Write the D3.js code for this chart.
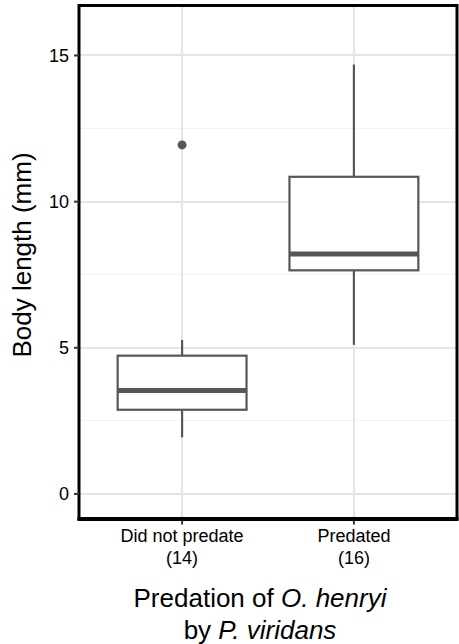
<!DOCTYPE html>
<meta charset="utf-8">
<style>
  body {
    margin: 0;
    background-color: white;
    font-family: "Liberation Sans", Arial, Helvetica, sans-serif;
  }

  .grid line {
    stroke: #e5e5e5;
    shape-rendering: crispEdges;
  }

  .tick-label {
    font-size: 18px;
    fill: #000;
  }

  .title {
    font-size: 26px;
    fill: #000;
  }
</style>

<body>
  <svg id="chart" width="459" height="644"></svg>

  <script src="https://cdn.jsdelivr.net/npm/d3@7"></script>

  <script>
    // groups and their counts
    var groups = ["Did not predate", "Predated"];
    var counts = [14, 16];

    // box stats (mm)
    var whiskerLow = [1.94, 5.10];
    var q1 = [2.88, 7.65];
    var median = [3.54, 8.21];
    var q3 = [4.73, 10.85];
    var whiskerHigh = [5.27, 14.69];
    var outliers = [[11.94], []];

    var yTicks = [0, 5, 10, 15];
    var yMinor = [2.5, 7.5, 12.5];

    var panel = { left: 79, right: 457, top: 5.5, bottom: 518.5 };

    var svg = d3.select("#chart");

    var x = d3.scalePoint().domain(groups)
      .range([panel.left, panel.right]).padding(0.6);
    var step = x.step();

    var y = d3.scaleLinear().domain([-0.84, 16.71])
      .range([panel.bottom, panel.top]);

    var boxes = groups.map(function (g, i) {
      return {
        group: g, n: counts[i], lo: whiskerLow[i], q1: q1[i], med: median[i],
        q3: q3[i], hi: whiskerHigh[i], out: outliers[i]
      };
    });

    // grid
    var grid = svg.append("g").attr("class", "grid");
    grid.selectAll(".minor").data(yMinor).enter().append("line")
      .attr("x1", panel.left).attr("x2", panel.right)
      .attr("y1", d => y(d)).attr("y2", d => y(d))
      .style("stroke", "#f3f3f3").attr("stroke-width", 1);
    grid.selectAll(".major").data(yTicks).enter().append("line")
      .attr("x1", panel.left).attr("x2", panel.right)
      .attr("y1", d => y(d)).attr("y2", d => y(d))
      .attr("stroke-width", 2);
    grid.selectAll(".vert").data(groups).enter().append("line")
      .attr("x1", d => x(d)).attr("x2", d => x(d))
      .attr("y1", panel.top).attr("y2", panel.bottom)
      .attr("stroke-width", 2);

    // boxes
    var bw = step * 0.75;
    var col = "#575757";
    var b = svg.selectAll(".box").data(boxes).enter().append("g");

    b.append("line")
      .attr("x1", d => x(d.group)).attr("x2", d => x(d.group))
      .attr("y1", d => y(d.hi)).attr("y2", d => y(d.q3))
      .attr("stroke", col).attr("stroke-width", 2.2);
    b.append("line")
      .attr("x1", d => x(d.group)).attr("x2", d => x(d.group))
      .attr("y1", d => y(d.q1)).attr("y2", d => y(d.lo))
      .attr("stroke", col).attr("stroke-width", 2.2);
    b.append("rect")
      .attr("x", d => x(d.group) - bw / 2).attr("width", bw)
      .attr("y", d => y(d.q3)).attr("height", d => y(d.q1) - y(d.q3))
      .attr("fill", "white").attr("stroke", col).attr("stroke-width", 2.2);
    b.append("line")
      .attr("x1", d => x(d.group) - bw / 2).attr("x2", d => x(d.group) + bw / 2)
      .attr("y1", d => y(d.med)).attr("y2", d => y(d.med))
      .attr("stroke", col).attr("stroke-width", 5);
    b.selectAll("circle").data(d => d.out.map(v => ({ g: d.group, v: v })))
      .enter().append("circle")
      .attr("cx", d => x(d.g)).attr("cy", d => y(d.v)).attr("r", 4.5)
      .attr("fill", col);

    // panel border
    svg.append("rect")
      .attr("x", panel.left).attr("y", panel.top)
      .attr("width", panel.right - panel.left).attr("height", panel.bottom - panel.top)
      .attr("fill", "none").attr("stroke", "#000").attr("stroke-width", 3);
    svg.append("line")
      .attr("x1", panel.left - 1.5).attr("x2", panel.right + 1.5)
      .attr("y1", panel.bottom + 0.5).attr("y2", panel.bottom + 0.5)
      .attr("stroke", "#000").attr("stroke-width", 4);

    // y axis
    var yAxis = svg.append("g");
    yAxis.selectAll("line").data(yTicks).enter().append("line")
      .attr("x1", panel.left - 5).attr("x2", panel.left)
      .attr("y1", d => y(d)).attr("y2", d => y(d))
      .attr("stroke", "#333").attr("stroke-width", 2);
    yAxis.selectAll("text").data(yTicks).enter().append("text")
      .attr("class", "tick-label")
      .attr("x", panel.left - 10).attr("y", d => y(d))
      .attr("dy", "0.36em").attr("text-anchor", "end")
      .text(d => d);

    // x axis
    var xAxis = svg.append("g");
    xAxis.selectAll("line").data(groups).enter().append("line")
      .attr("x1", d => x(d)).attr("x2", d => x(d))
      .attr("y1", panel.bottom + 2).attr("y2", panel.bottom + 6)
      .attr("stroke", "#333").attr("stroke-width", 2);
    var xl = xAxis.selectAll("text").data(boxes).enter().append("text")
      .attr("class", "tick-label").attr("text-anchor", "middle");
    xl.append("tspan").attr("x", d => x(d.group)).attr("y", 541.5).text(d => d.group);
    xl.append("tspan").attr("x", d => x(d.group)).attr("y", 564).text(d => "(" + d.n + ")");

    // titles
    var xt = svg.append("text").attr("class", "title").attr("text-anchor", "middle");
    var l1 = xt.append("tspan").attr("x", 260).attr("y", 607);
    l1.append("tspan").text("Predation of ");
    l1.append("tspan").style("font-style", "italic").text("O. henryi");
    var l2 = xt.append("tspan").attr("x", 260).attr("y", 638.5);
    l2.append("tspan").text("by ");
    l2.append("tspan").style("font-style", "italic").text("P. viridans");

    svg.append("text").attr("class", "title")
      .attr("transform", "translate(30.5," + 255 + ") rotate(-90)")
      .attr("text-anchor", "middle")
      .text("Body length (mm)");
  </script>
</body>

</html>
